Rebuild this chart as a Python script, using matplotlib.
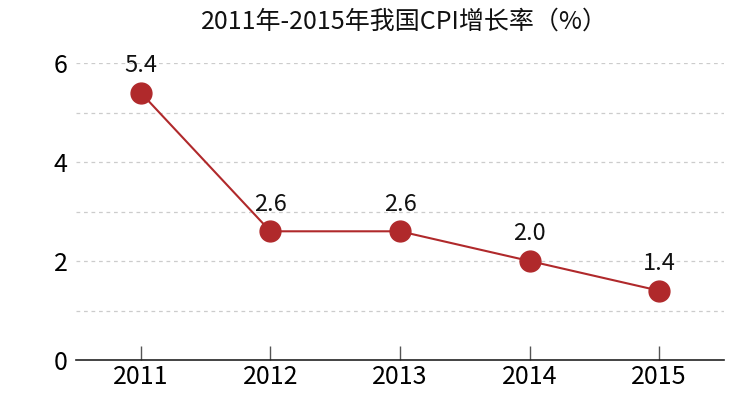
import matplotlib
matplotlib.use("Agg")
import matplotlib.pyplot as plt

years = ["2011", "2012", "2013", "2014", "2015"]
cpi = [5.4, 2.6, 2.6, 2.0, 1.4]
title = "2011年-2015年我国CPI增长率（%）"

plt.rcParams['font.family'] = ['Noto Sans CJK SC', 'DejaVu Sans']

fig = plt.figure(figsize=(7.5, 4), dpi=100)
ax = fig.add_axes([0.1013, 0.1, 0.8640, 0.7425])

x = list(range(len(years)))
color = "#B0292B"
ax.plot(x, cpi, color=color, lw=1.5, marker="o", markersize=15,
        markerfacecolor=color, markeredgecolor=color, clip_on=False, zorder=3)
for xi, v in zip(x, cpi):
    ax.annotate(f"{v:.1f}", (xi, v), xytext=(0, 19.5), textcoords="offset points",
                ha="center", va="center", fontsize=17, color="#111111")

ax.set_xlim(-0.5, 4.5)
ax.set_ylim(0, 6)
ax.set_xticks(x)
ax.set_xticklabels(years)
ax.set_yticks([0, 2, 4, 6])
for yv in [1, 2, 3, 4, 5, 6]:
    ax.axhline(yv, color="#cccccc", lw=0.9, ls=(0, (3, 3)), zorder=1)

for s in ["left", "right", "top"]:
    ax.spines[s].set_visible(False)
ax.spines["bottom"].set_color("#222222")
ax.spines["bottom"].set_linewidth(1.2)
ax.tick_params(axis="x", direction="in", length=10, width=1, color="#555555",
               labelsize=18, pad=3)
ax.tick_params(axis="y", length=0, labelsize=18, pad=6)

fig.text(0.539, 0.945, title, ha="center", va="center", fontsize=18, color="#111111")

fig.savefig("out.png", dpi=100)
